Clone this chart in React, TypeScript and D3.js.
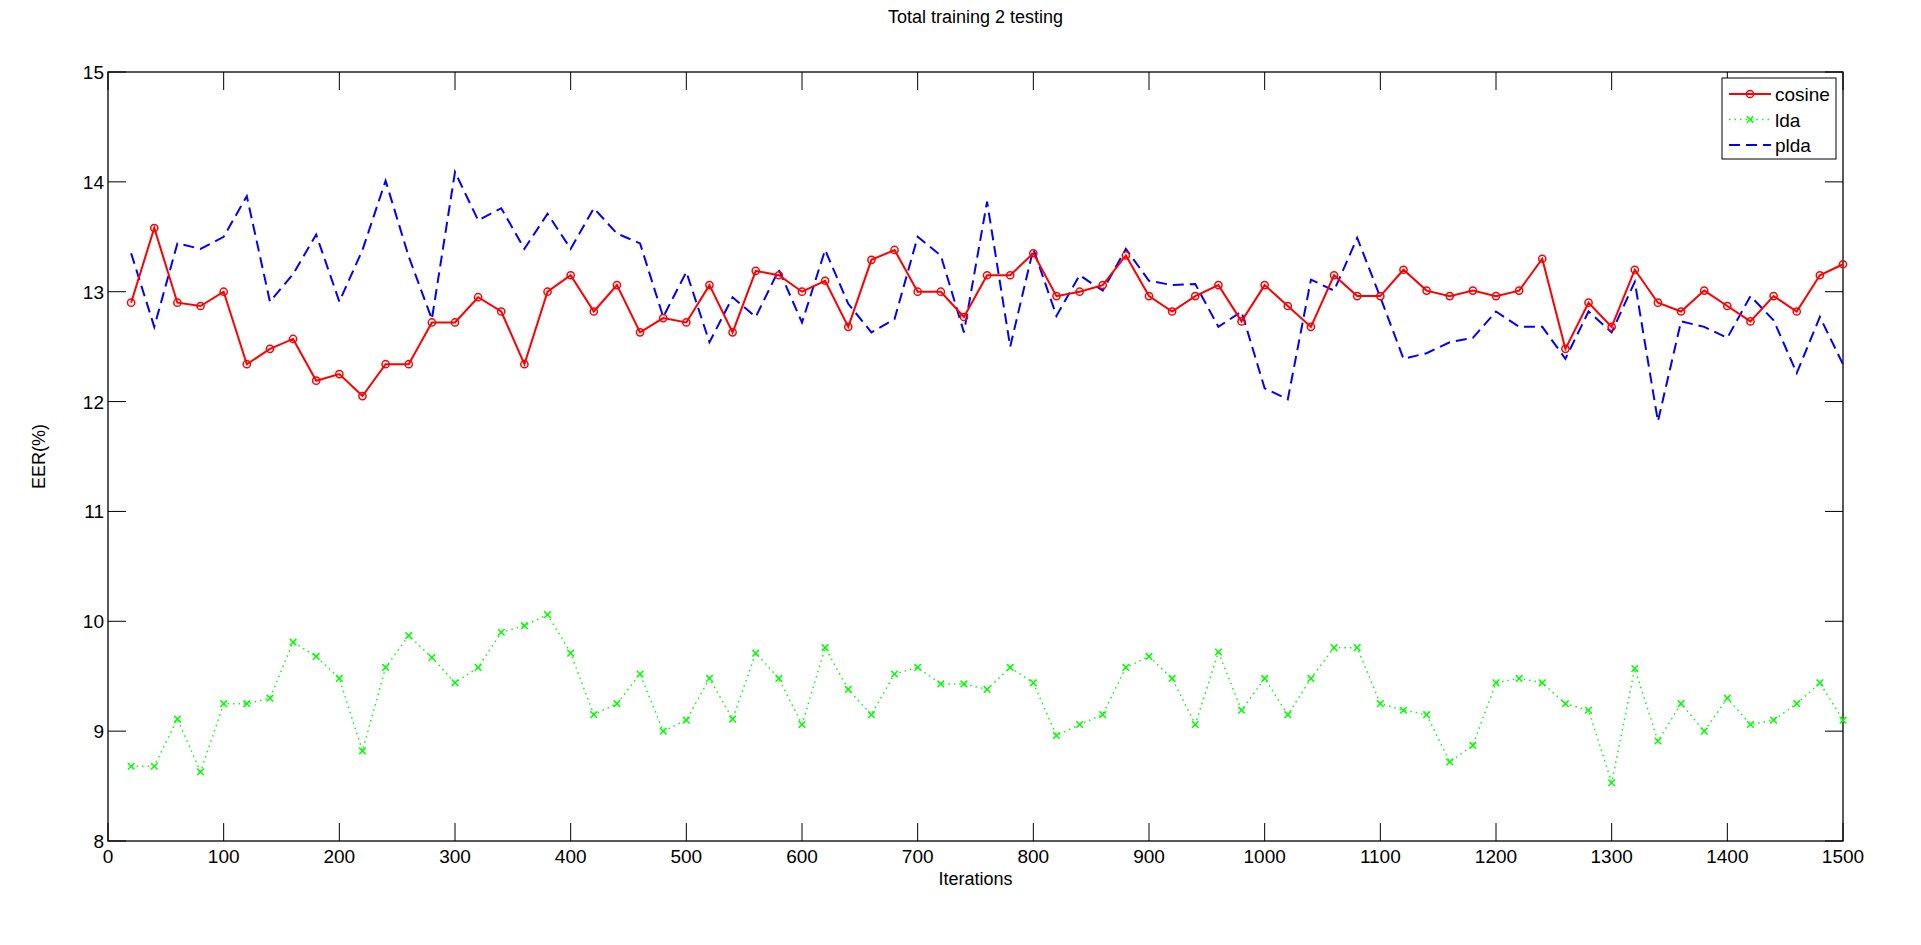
import * as d3 from "d3"
import { useEffect, useRef } from "react"

// iterations 20..1500 step 20
const iterations = [
  20, 40, 60, 80, 100, 120, 140, 160, 180, 200, 220, 240, 260, 280, 300, 320, 340, 360, 380, 400,
  420, 440, 460, 480, 500, 520, 540, 560, 580, 600, 620, 640, 660, 680, 700, 720, 740, 760, 780, 800,
  820, 840, 860, 880, 900, 920, 940, 960, 980, 1000, 1020, 1040, 1060, 1080, 1100, 1120, 1140, 1160, 1180, 1200,
  1220, 1240, 1260, 1280, 1300, 1320, 1340, 1360, 1380, 1400, 1420, 1440, 1460, 1480, 1500,
]

const cosine = [
  12.9, 13.58, 12.9, 12.87, 13.0, 12.34, 12.48, 12.57, 12.19, 12.25, 12.05, 12.34, 12.34, 12.72, 12.72, 12.95, 12.82, 12.34, 13.0, 13.15,
  12.82, 13.06, 12.63, 12.76, 12.72, 13.06, 12.63, 13.19, 13.15, 13.0, 13.1, 12.68, 13.29, 13.38, 13.0, 13.0, 12.77, 13.15, 13.15, 13.35,
  12.96, 13.0, 13.06, 13.33, 12.96, 12.82, 12.96, 13.06, 12.73, 13.06, 12.87, 12.68, 13.15, 12.96, 12.96, 13.2, 13.01, 12.96, 13.01, 12.96,
  13.01, 13.3, 12.48, 12.9, 12.68, 13.2, 12.9, 12.82, 13.01, 12.87, 12.73, 12.96, 12.82, 13.15, 13.25,
]

const lda = [
  8.68, 8.68, 9.11, 8.63, 9.25, 9.25, 9.3, 9.81, 9.68, 9.48, 8.82, 9.58, 9.87, 9.67, 9.44, 9.58, 9.9, 9.96, 10.06, 9.71,
  9.15, 9.25, 9.52, 9.0, 9.1, 9.48, 9.11, 9.71, 9.48, 9.06, 9.76, 9.38, 9.15, 9.52, 9.58, 9.43, 9.43, 9.38, 9.58, 9.44,
  8.96, 9.06, 9.15, 9.58, 9.68, 9.48, 9.06, 9.72, 9.19, 9.48, 9.15, 9.48, 9.76, 9.76, 9.25, 9.19, 9.15, 8.72, 8.87, 9.44,
  9.48, 9.44, 9.25, 9.19, 8.53, 9.57, 8.91, 9.25, 9.0, 9.3, 9.06, 9.1, 9.25, 9.44, 9.1,
]

const plda = [
  13.35, 12.68, 13.44, 13.39, 13.5, 13.87, 12.91, 13.16, 13.52, 12.91, 13.38, 14.01, 13.32, 12.75, 14.09, 13.65, 13.76, 13.39, 13.71, 13.39,
  13.76, 13.53, 13.44, 12.77, 13.18, 12.54, 12.95, 12.77, 13.2, 12.72, 13.38, 12.89, 12.63, 12.75, 13.5, 13.33, 12.63, 13.82, 12.5, 13.39,
  12.78, 13.15, 13.01, 13.39, 13.1, 13.06, 13.07, 12.68, 12.82, 12.12, 12.02, 13.11, 13.01, 13.49, 12.95, 12.39, 12.44, 12.54, 12.58, 12.82,
  12.68, 12.68, 12.39, 12.82, 12.63, 13.09, 11.82, 12.73, 12.68, 12.58, 12.96, 12.74, 12.26, 12.77, 12.34,
]

const xTicks = [0, 100, 200, 300, 400, 500, 600, 700, 800, 900, 1000, 1100, 1200, 1300, 1400, 1500]
const yTicks = [8, 9, 10, 11, 12, 13, 14, 15]

const seriesNames = ["cosine", "lda", "plda"]

const App = () => {
  const svgRef = useRef<SVGSVGElement | null>(null)

  useEffect(() => {
    if (!svgRef.current) return
    const root = d3.select(svgRef.current)
    root.selectAll("*").remove()

    const W = 1921
    const H = 945
    const margin = { top: 72, right: 78, bottom: 104, left: 108 }
    const width = W - margin.left - margin.right
    const height = H - margin.top - margin.bottom
    const font = "'Liberation Sans', Arial, sans-serif"

    root.attr("width", W).attr("height", H).style("font-family", font)
    root.append("rect").attr("width", W).attr("height", H).attr("fill", "#fff")

    const svg = root.append("g").attr("transform", `translate(${margin.left},${margin.top})`)

    const x = d3.scaleLinear().domain([0, 1500]).range([0, width])
    const y = d3.scaleLinear().domain([8, 15]).range([height, 0])

    const tickLen = 18

    // box
    svg
      .append("rect")
      .attr("width", width)
      .attr("height", height)
      .attr("fill", "none")
      .attr("stroke", "#000")
      .attr("stroke-width", 1.3)

    // inward ticks on all four sides
    const tg = svg.append("g").attr("stroke", "#000").attr("stroke-width", 1)
    xTicks.forEach(t => {
      tg.append("line").attr("x1", x(t)).attr("x2", x(t)).attr("y1", height).attr("y2", height - tickLen)
      tg.append("line").attr("x1", x(t)).attr("x2", x(t)).attr("y1", 0).attr("y2", tickLen)
    })
    yTicks.forEach(t => {
      tg.append("line").attr("x1", 0).attr("x2", tickLen).attr("y1", y(t)).attr("y2", y(t))
      tg.append("line").attr("x1", width).attr("x2", width - tickLen).attr("y1", y(t)).attr("y2", y(t))
    })

    svg
      .selectAll(".xlab")
      .data(xTicks)
      .enter()
      .append("text")
      .attr("x", d => x(d))
      .attr("y", height + 22)
      .attr("text-anchor", "middle")
      .style("font-size", "19px")
      .text(d => d.toString())

    svg
      .selectAll(".ylab")
      .data(yTicks)
      .enter()
      .append("text")
      .attr("x", -4)
      .attr("y", d => y(d) + 7)
      .attr("text-anchor", "end")
      .style("font-size", "19px")
      .text(d => d.toString())

    // title and axis labels
    root
      .append("text")
      .attr("x", margin.left + width / 2)
      .attr("y", 23)
      .attr("text-anchor", "middle")
      .style("font-size", "18px")
      .text("Total training 2 testing")

    root
      .append("text")
      .attr("x", margin.left + width / 2)
      .attr("y", 885)
      .attr("text-anchor", "middle")
      .style("font-size", "18px")
      .text("Iterations")

    root
      .append("text")
      .attr("transform", `translate(45,${margin.top + height / 2}) rotate(-90)`)
      .attr("text-anchor", "middle")
      .style("font-size", "18px")
      .text("EER(%)")

    const line = d3
      .line<number>()
      .x((_, i) => x(iterations[i]))
      .y(d => y(d))

    // plda dashed blue
    svg
      .append("path")
      .datum(plda)
      .attr("fill", "none")
      .attr("stroke", "#0000ff")
      .attr("stroke-width", 2)
      .attr("stroke-dasharray", "11,6")
      .attr("d", line)

    // lda dotted green with x markers
    svg
      .append("path")
      .datum(lda)
      .attr("fill", "none")
      .attr("stroke", "#00ff00")
      .attr("stroke-width", 1.5)
      .attr("stroke-dasharray", "1.5,4")
      .attr("d", line)

    const cross = d3.symbol().type(d3.symbolTimes).size(30)
    svg
      .selectAll(".ldadot")
      .data(lda)
      .enter()
      .append("path")
      .attr("d", cross)
      .attr("transform", (d, i) => `translate(${x(iterations[i])},${y(d)})`)
      .attr("fill", "#00ff00")
      .attr("stroke", "#00ff00")
      .attr("stroke-width", 1.5)

    // cosine solid red with circles
    svg
      .append("path")
      .datum(cosine)
      .attr("fill", "none")
      .attr("stroke", "#ff0000")
      .attr("stroke-width", 2)
      .attr("d", line)

    svg
      .selectAll(".cosdot")
      .data(cosine)
      .enter()
      .append("circle")
      .attr("cx", (_, i) => x(iterations[i]))
      .attr("cy", d => y(d))
      .attr("r", 3.6)
      .attr("fill", "none")
      .attr("stroke", "#ff0000")
      .attr("stroke-width", 1.5)

    // legend
    const lgX = 1722 - margin.left
    const lgY = 78 - margin.top
    const legend = svg.append("g").attr("transform", `translate(${lgX},${lgY})`)
    legend
      .append("rect")
      .attr("width", 114)
      .attr("height", 81)
      .attr("fill", "#fff")
      .attr("stroke", "#000")
      .attr("stroke-width", 1)

    seriesNames.forEach((name, i) => {
      const cy = 16 + i * 25.5
      const ln = legend
        .append("line")
        .attr("x1", 7)
        .attr("x2", 49)
        .attr("y1", cy)
        .attr("y2", cy)
        .attr("fill", "none")
      if (name === "cosine") {
        ln.attr("stroke", "#ff0000").attr("stroke-width", 2)
        legend
          .append("circle")
          .attr("cx", 28)
          .attr("cy", cy)
          .attr("r", 3.6)
          .attr("fill", "none")
          .attr("stroke", "#ff0000")
          .attr("stroke-width", 1.5)
      } else if (name === "lda") {
        ln.attr("stroke", "#00ff00").attr("stroke-width", 1.5).attr("stroke-dasharray", "1.5,4")
        legend
          .append("path")
          .attr("d", cross)
          .attr("transform", `translate(28,${cy})`)
          .attr("fill", "#00ff00")
          .attr("stroke", "#00ff00")
          .attr("stroke-width", 1.5)
      } else {
        ln.attr("stroke", "#0000ff").attr("stroke-width", 2).attr("stroke-dasharray", "11,6")
      }
      legend
        .append("text")
        .attr("x", 53)
        .attr("y", cy + 7)
        .style("font-size", "19px")
        .text(name)
    })
  }, [])

  return (
    <div style={{ position: "absolute", left: 0, top: 0 }}>
      <svg ref={svgRef} />
    </div>
  )
}

export default App
